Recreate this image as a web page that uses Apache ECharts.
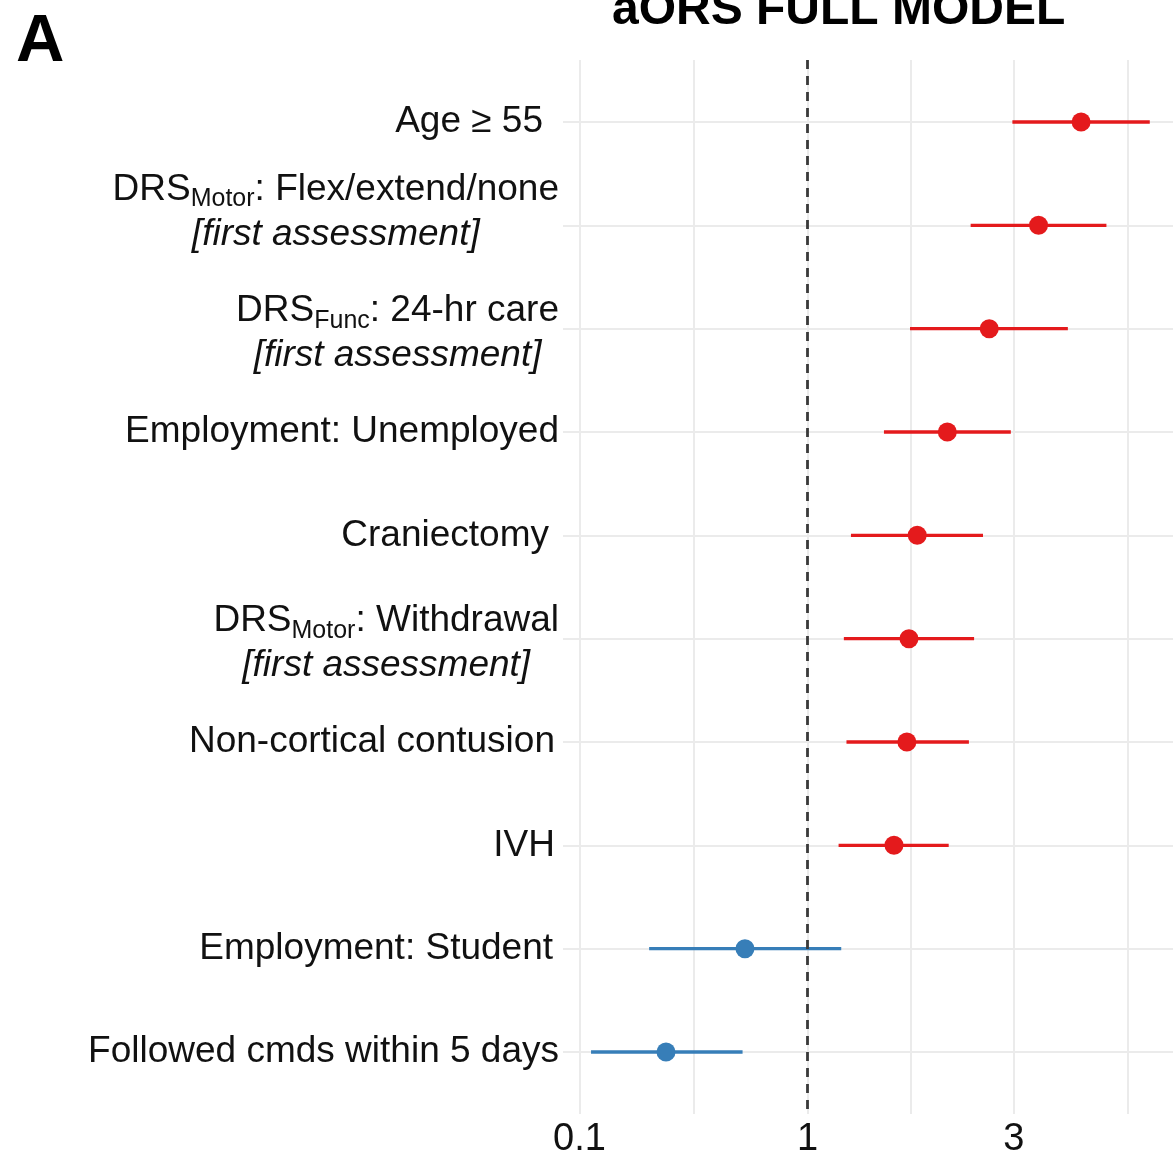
<!DOCTYPE html>
<html>
<head>
<meta charset="utf-8">
<style>
  html, body { margin: 0; padding: 0; background: #ffffff; }
  #chart { width: 1173px; height: 1160px; }
</style>
<script src="https://cdn.jsdelivr.net/npm/echarts@6/dist/echarts.min.js"></script>
</head>
<body>
<div id="chart"></div>
<script>
// ---------------- data ----------------
const categories = [
  'Age \u2265 55',
  'DRS|Motor|: Flex/extend/none|[first assessment]',
  'DRS|Func|: 24-hr care|[first assessment]',
  'Employment: Unemployed',
  'Craniectomy',
  'DRS|Motor|: Withdrawal|[first assessment]',
  'Non-cortical contusion',
  'IVH',
  'Employment: Student',
  'Followed cmds within 5 days'
];
const oddsRatio = [3.95, 3.33, 2.69, 2.21, 1.90, 1.82, 1.80, 1.68, 0.635, 0.309];
const ciLower   = [2.98, 2.47, 1.83, 1.59, 1.315, 1.26, 1.28, 1.22, 0.257, 0.120];
const ciUpper   = [5.09, 4.35, 3.75, 2.96, 2.615, 2.51, 2.45, 2.225, 1.24, 0.623];
const tickValues = [0.1, 1, 3];
const tickLabels = ['0.1', '1', '3'];
const axisLimits = [0.0751, 5.516];
const referenceValue = 1;

// ---------------- scale transform ----------------
const P = 0.392;
const toAxis = v => Math.pow(v, P);

const majorPos = tickValues.map(toAxis);
const firstStep = majorPos[1] - majorPos[0];
const gridPos = [];
majorPos.forEach((p, i) => {
  gridPos.push(p);
  if (i < majorPos.length - 1) gridPos.push((p + majorPos[i + 1]) / 2);
});
gridPos.push(majorPos[majorPos.length - 1] + firstStep / 2);

// ---------------- label layout (styling only) ----------------
const labelPadRight = { 0: 16, 4: 10, 6: 4, 7: 4, 8: 6 };
const labelLiftRows = { 1: true };
function richLabel(i) {
  const parts = categories[i].split('|');
  let s;
  if (parts.length === 4) {
    s = '{t|}\n{m|' + parts[0] + '}{s|' + parts[1] + '}{m|' + parts[2] + '}\n{i|' + parts[3] + '}';
  } else {
    const pad = labelPadRight[i] || 0;
    s = '{m|' + parts[0] + '}' + (pad ? '{p' + pad + '|}' : '');
  }
  if (labelLiftRows[i]) s += '\n{e|}';
  return s;
}

const RED = '#E41A1C';
const BLUE = '#377EB8';
const colorOf = i => (oddsRatio[i] >= referenceValue ? RED : BLUE);
const rowIdx = categories.map((_, i) => i);

const FONT = "'Liberation Sans', Arial, Helvetica, sans-serif";
const rich = {
  m: { fontSize: 37, lineHeight: 45, color: '#111', fontFamily: FONT, align: 'center' },
  s: { fontSize: 25, lineHeight: 25, color: '#111', fontFamily: FONT, align: 'center', verticalAlign: 'bottom' },
  i: { fontSize: 37, lineHeight: 45, color: '#111', fontFamily: FONT, fontStyle: 'italic', align: 'center' },
  t: { fontSize: 8, lineHeight: 9, align: 'center' },
  e: { fontSize: 10, lineHeight: 36, align: 'center' }
};
Object.keys(labelPadRight).forEach(k => {
  const w = labelPadRight[k];
  rich['p' + w] = { width: w, fontSize: 37, lineHeight: 45, align: 'right' };
});

const chart = echarts.init(document.getElementById('chart'));

chart.setOption({
  backgroundColor: '#ffffff',
  animation: false,
  title: [
    { text: 'A', left: 11, top: 4,
      textStyle: { fontSize: 67, fontWeight: 'bold', color: '#000', fontFamily: FONT } },
    { text: 'aORS FULL MODEL', left: 607, top: -18,
      textStyle: { fontSize: 48, fontWeight: 'bold', color: '#000', fontFamily: FONT } }
  ],
  grid: { left: 563, right: 0, top: 60, bottom: 46, containLabel: false },
  xAxis: {
    type: 'value',
    min: toAxis(axisLimits[0]),
    max: toAxis(axisLimits[1]),
    axisLine: { show: false },
    axisTick: { show: false, customValues: gridPos },
    splitLine: { show: true, lineStyle: { color: '#ebebeb', width: 2 } },
    axisLabel: {
      customValues: majorPos,
      margin: 7,
      fontSize: 38,
      color: '#111',
      fontFamily: FONT,
      formatter: v => {
        const k = majorPos.findIndex(p => Math.abs(p - v) < 1e-6);
        return k >= 0 ? tickLabels[k] : '';
      }
    }
  },
  yAxis: {
    type: 'value',
    min: -0.6,
    max: categories.length - 1 + 0.6,
    inverse: true,
    axisLine: { show: false },
    axisTick: { show: false, customValues: rowIdx },
    splitLine: { show: true, lineStyle: { color: '#ebebeb', width: 2 } },
    axisLabel: {
      customValues: rowIdx,
      margin: 4,
      formatter: v => richLabel(Math.round(v)),
      rich: rich
    }
  },
  series: [
    {
      type: 'custom',
      z: 2,
      silent: true,
      encode: { x: [0, 1], y: 2 },
      data: rowIdx.map(i => [toAxis(ciLower[i]), toAxis(ciUpper[i]), i]),
      renderItem: (params, api) => {
        const a = api.coord([api.value(0), api.value(2)]);
        const b = api.coord([api.value(1), api.value(2)]);
        return {
          type: 'line',
          shape: { x1: a[0], y1: a[1], x2: b[0], y2: b[1] },
          style: { stroke: colorOf(params.dataIndex), lineWidth: 3.3 }
        };
      }
    },
    {
      type: 'scatter',
      z: 3,
      silent: true,
      symbol: 'circle',
      symbolSize: 19,
      data: rowIdx.map(i => ({ value: [toAxis(oddsRatio[i]), i], itemStyle: { color: colorOf(i), opacity: 1 } })),
      markLine: {
        silent: true,
        symbol: 'none',
        label: { show: false },
        z: 5,
        lineStyle: { type: [9, 7], color: '#3a3a3a', width: 2.8 },
        data: [{ xAxis: toAxis(referenceValue) }]
      }
    }
  ]
});
</script>
</body>
</html>
